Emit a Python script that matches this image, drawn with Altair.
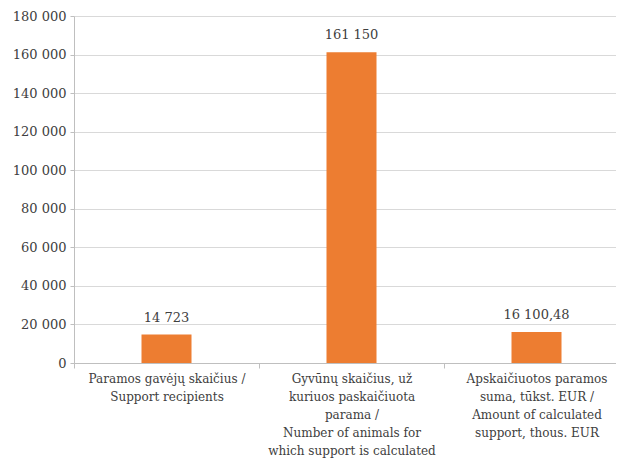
import altair as alt
import pandas as pd

categories = [
    "Paramos gavėjų skaičius /|Support recipients",
    "Gyvūnų skaičius, už|kuriuos paskaičiuota|parama /|Number of animals for|which support is calculated",
    "Apskaičiuotos paramos|suma, tūkst. EUR /|Amount of calculated|support, thous. EUR",
]
values = [14723, 161150, 16100.48]
decimals = [0, 0, 2]


def fmt(v, d):
    s = f"{v:,.{d}f}"
    return s.replace(",", " ").replace(".", ",")


labels = [fmt(v, d) for v, d in zip(values, decimals)]

df = pd.DataFrame({"cat": categories, "value": values, "label": labels})

FONT = "DejaVu Serif"
TXT = "#404040"

x = alt.X(
    "cat:N",
    sort=None,
    title=None,
    scale=alt.Scale(paddingInner=0, paddingOuter=0, range=[0, 555]),
    axis=alt.Axis(
        labelAngle=0,
        labelExpr="split(datum.label, '|')",
        labelFont=FONT,
        labelFontSize=12,
        labelColor=TXT,
        labelLineHeight=18,
        labelPadding=5,
        labelLimit=300,
        tickBand="extent",
        tickSize=5,
        tickColor="#BFBFBF",
        domainColor="#BFBFBF",
        grid=False,
    ),
)
y = alt.Y(
    "value:Q",
    title=None,
    scale=alt.Scale(domain=[0, 180000], nice=False),
    axis=alt.Axis(
        values=list(range(0, 180001, 20000)),
        labelExpr="replace(format(datum.value, ','), ',', ' ')",
        labelFont=FONT,
        labelFontSize=13,
        labelColor=TXT,
        labelPadding=4,
        tickSize=4,
        tickColor="#BFBFBF",
        domainColor="#BFBFBF",
        gridColor="#D9D9D9",
    ),
)

bars = alt.Chart(df).mark_bar(color="#ED7D31", size=50).encode(x=x, y=y)
text = alt.Chart(df).mark_text(
    dy=-10, font=FONT, fontSize=13, color=TXT, baseline="bottom"
).encode(x=x, y=y, text="label:N")

chart = (
    (bars + text)
    .properties(
        width=542,
        height=347,
        autosize=alt.AutoSizeParams(type="none"),
        padding={"left": 66, "top": 8, "right": 0, "bottom": 100},
    )
    .configure_view(stroke=None)
)

chart.save("out.html", embed_options={"renderer": "svg", "actions": False})
